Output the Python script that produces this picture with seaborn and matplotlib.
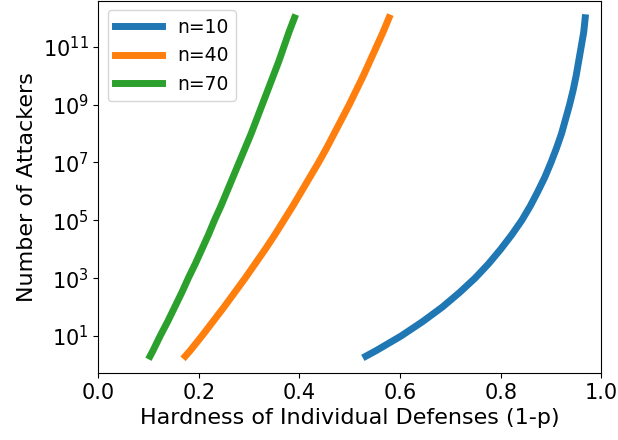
import pandas as pd
import seaborn as sns
import matplotlib.pyplot as plt
from matplotlib.ticker import NullLocator

# number of attackers (y), read every half decade
attackers = [2, 3.16, 1e1, 3.16e1, 1e2, 3.16e2, 1e3, 3.16e3, 1e4, 3.16e4, 1e5, 3.16e5,
             1e6, 3.16e6, 1e7, 3.16e7, 1e8, 3.16e8, 1e9, 3.16e9, 1e10, 3.16e10,
             1e11, 3.16e11, 1e12]

# hardness (1-p) where each curve reaches those values
hard_n10 = [0.532, 0.553, 0.602, 0.645, 0.684, 0.718, 0.749, 0.776, 0.800, 0.822,
            0.842, 0.859, 0.874, 0.888, 0.900, 0.911, 0.921, 0.929, 0.937, 0.944,
            0.950, 0.955, 0.960, 0.965, 0.968]
hard_n40 = [0.173, 0.183, 0.206, 0.228, 0.250, 0.271, 0.292, 0.312, 0.332, 0.351,
            0.369, 0.387, 0.404, 0.421, 0.438, 0.454, 0.469, 0.484, 0.499, 0.513,
            0.527, 0.540, 0.553, 0.566, 0.578]
hard_n70 = [0.103, 0.109, 0.123, 0.138, 0.152, 0.166, 0.179, 0.193, 0.206, 0.219,
            0.231, 0.244, 0.256, 0.268, 0.280, 0.292, 0.304, 0.315, 0.326, 0.337,
            0.348, 0.359, 0.369, 0.379, 0.390]

labels = ["n=10", "n=40", "n=70"]

df = pd.concat([
    pd.DataFrame({"hardness": h, "attackers": attackers, "n": lab})
    for h, lab in zip([hard_n10, hard_n40, hard_n70], labels)
])

fig, ax = plt.subplots(figsize=(6.18, 4.40), dpi=100)
sns.lineplot(data=df, x="hardness", y="attackers", hue="n", hue_order=labels,
             palette="tab10", linewidth=5, estimator=None, sort=False, ax=ax)

ax.set_yscale("log")
ax.set_xlim(0, 1)
ax.set_yticks([1e1, 1e3, 1e5, 1e7, 1e9, 1e11])
ax.yaxis.set_minor_locator(NullLocator())
ax.tick_params(labelsize=15)

ax.set_xlabel("Hardness of Individual Defenses (1-p)", fontsize=16)
ax.set_ylabel("Number of Attackers", fontsize=16)

handles, _ = ax.get_legend_handles_labels()
ax.legend(handles, labels, loc="upper left", prop={"size": 13.5}, handlelength=2.5)

plt.subplots_adjust(left=0.159, right=0.973, top=0.998, bottom=0.152)
plt.savefig("out.png", dpi=100)
